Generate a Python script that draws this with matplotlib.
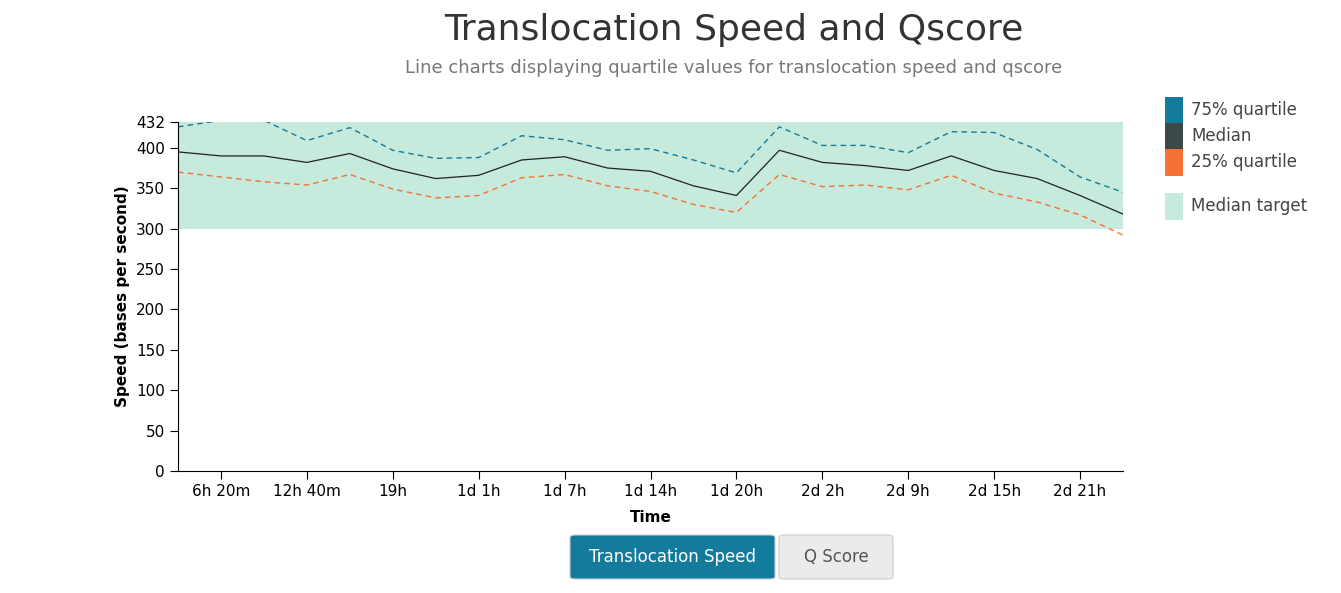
import matplotlib.pyplot as plt
from matplotlib.patches import FancyBboxPatch, Rectangle
import numpy as np

# one point every 3h10m
step_hours = 19 / 6
upper = [426, 434, 434, 409, 425, 397, 387, 388, 415, 410, 397, 399, 385, 369,
         426, 403, 403, 394, 420, 419, 398, 364, 345]
median = [395, 390, 390, 382, 393, 374, 362, 366, 385, 389, 375, 371, 353, 341,
          397, 382, 378, 372, 390, 372, 362, 341, 318]
lower = [370, 364, 358, 354, 367, 349, 338, 341, 363, 367, 353, 346, 330, 320,
         367, 352, 354, 348, 366, 344, 333, 317, 292]
tick_labels = ['6h 20m', '12h 40m', '19h', '1d 1h', '1d 7h', '1d 14h', '1d 20h',
               '2d 2h', '2d 9h', '2d 15h', '2d 21h']
y_ticks = [0, 50, 100, 150, 200, 250, 300, 350, 400, 432]
target = (300, 432)

blue = '#137b9c'
dark = '#3d4849'
orange = '#f47137'
green = '#c6eadb'

t = np.arange(1, len(median) + 1) * step_hours

fig = plt.figure(figsize=(13.41, 5.93), dpi=100)
ax = fig.add_axes([178 / 1341, 1 - 471 / 593, (1123 - 178) / 1341, (471 - 122) / 593])

ax.axhspan(target[0], target[1], color=green, lw=0)
ax.plot(t, upper, color=blue, lw=1, ls=(0, (4, 3)))
ax.plot(t, median, color='#222222', lw=0.9)
ax.plot(t, lower, color=orange, lw=1, ls=(0, (4, 3)))

ax.set_xlim(t[0], t[-1])
ax.set_ylim(0, 432)
ax.set_yticks(y_ticks)
ax.set_xticks(t[1::2][:len(tick_labels)])
ax.set_xticklabels(tick_labels)
ax.tick_params(labelsize=11, length=6)
for s in ['top', 'right']:
    ax.spines[s].set_visible(False)
ax.set_xlabel('Time', fontsize=11, fontweight='bold', labelpad=8)
ax.set_ylabel('Speed (bases per second)', fontsize=11, fontweight='bold')

fig.text(0.547, 0.95, 'Translocation Speed and Qscore', ha='center', va='center',
         fontsize=26, color='#333333')
fig.text(0.547, 0.886, 'Line charts displaying quartile values for translocation speed and qscore',
         ha='center', va='center', fontsize=13, color='#777777')

# legend
items = [(blue, '75% quartile', 97), (dark, 'Median', 123), (orange, '25% quartile', 149),
         (green, 'Median target', 193)]
for c, lab, ytop in items:
    fig.patches.append(Rectangle((1165 / 1341, 1 - (ytop + 27) / 593), 18 / 1341, 27 / 593,
                                 transform=fig.transFigure, color=c, lw=0))
    fig.text(1191 / 1341, 1 - (ytop + 13) / 593, lab, va='center', fontsize=12, color='#444444')

# buttons
for x0, w, fc, tc, lab in [(570, 205, blue, 'white', 'Translocation Speed'),
                           (779, 114, '#ebebeb', '#555555', 'Q Score')]:
    fig.patches.append(FancyBboxPatch((x0 / 1341, 1 - 579 / 593), w / 1341, 44 / 593,
                                      boxstyle='round,pad=0,rounding_size=0.004',
                                      transform=fig.transFigure, fc=fc, ec='#cccccc', lw=0.8))
    fig.text((x0 + w / 2) / 1341, 1 - 557 / 593, lab, ha='center', va='center',
             fontsize=12, color=tc)

fig.savefig('out.png')
